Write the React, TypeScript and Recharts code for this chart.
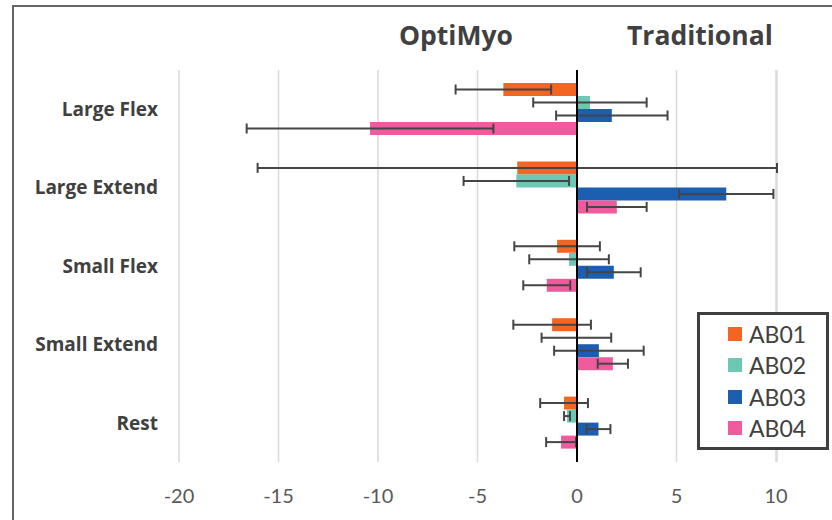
import { BarChart, Bar, XAxis, YAxis, CartesianGrid, ReferenceLine, ErrorBar } from 'recharts'

const categories = ['Large Flex', 'Large Extend', 'Small Flex', 'Small Extend', 'Rest']
const series = ['AB01', 'AB02', 'AB03', 'AB04']
const colors = ['#f26522', '#6cc7b3', '#1c5fb0', '#ef5b9c']

const ab01 = [-3.7, -3.0, -1.0, -1.25, -0.65]
const ab01Err = [2.4, 13.05, 2.15, 1.95, 1.2]
const ab02 = [0.65, -3.05, -0.4, -0.03, -0.5]
const ab02Err = [2.85, 2.65, 2.0, 1.75, 0.15]
const ab03 = [1.75, 7.5, 1.85, 1.1, 1.08]
const ab03Err = [2.8, 2.37, 1.35, 2.25, 0.6]
const ab04 = [-10.4, 2.0, -1.52, 1.8, -0.8]
const ab04Err = [6.2, 1.5, 1.18, 0.76, 0.75]

const xTicks = [-20, -15, -10, -5, 0, 5, 10]

const values = [ab01, ab02, ab03, ab04]
const errors = [ab01Err, ab02Err, ab03Err, ab04Err]

const data = categories.map((name, i) => {
  const row: Record<string, string | number> = { name }
  series.forEach((s, j) => {
    row[s] = values[j][i]
    row[s + 'err'] = errors[j][i]
  })
  return row
})

const title = {
  position: 'absolute' as const,
  top: 17,
  fontFamily: 'Open Sans',
  fontWeight: 'bold',
  fontSize: 26.5,
  color: '#404040',
}

export default function App() {
  return (
    <div style={{ position: 'fixed', left: 0, top: 0, width: 832, height: 520, background: '#fff' }}>
      <div
        style={{
          position: 'absolute',
          left: 12,
          top: 5,
          right: 0,
          bottom: 0,
          borderLeft: '2px solid #666',
          borderTop: '2px solid #666',
        }}
      />
      <BarChart
        width={832}
        height={520}
        data={data}
        layout="vertical"
        margin={{ top: 70, right: 55, bottom: 0, left: 0 }}
        barSize={13}
        barGap={0}
      >
        <CartesianGrid horizontal={false} stroke="#d9d9d9" strokeWidth={1.5} />
        <XAxis
          type="number"
          domain={[-20, 10]}
          ticks={xTicks}
          height={58}
          axisLine={false}
          tickLine={false}
          tickSize={0}
          tickMargin={27}
          tick={{ fontSize: 20, fontFamily: 'Lato', fill: '#595959' }}
        />
        <YAxis
          type="category"
          dataKey="name"
          width={179}
          axisLine={false}
          tickLine={false}
          tickSize={0}
          tickMargin={21}
          tick={{ fontSize: 19, fontFamily: 'Open Sans', fontWeight: 'bold', fill: '#404040' }}
        />
        {series.map((s, i) => (
          <Bar key={s} dataKey={s} fill={colors[i]} isAnimationActive={false}>
            <ErrorBar dataKey={s + 'err'} direction="x" width={5} stroke="#454545" strokeWidth={2} />
          </Bar>
        ))}
        <ReferenceLine x={0} stroke="#000" strokeWidth={2} />
      </BarChart>
      <div
        style={{
          position: 'absolute',
          left: 697,
          top: 312,
          width: 132,
          height: 138,
          border: '3px solid #3f3f3f',
          boxSizing: 'border-box',
          padding: '3px 0 0 28px',
          background: '#fff',
        }}
      >
        {series.map((s, i) => (
          <div key={s} style={{ display: 'flex', alignItems: 'center', height: 31.5 }}>
            <span style={{ width: 14, height: 14, background: colors[i], marginRight: 7 }} />
            <span style={{ fontFamily: 'Lato', fontSize: 23, color: '#404040' }}>{s}</span>
          </div>
        ))}
      </div>
      <div style={{ ...title, left: 399 }}>OptiMyo</div>
      <div style={{ ...title, left: 627 }}>Traditional</div>
    </div>
  )
}
